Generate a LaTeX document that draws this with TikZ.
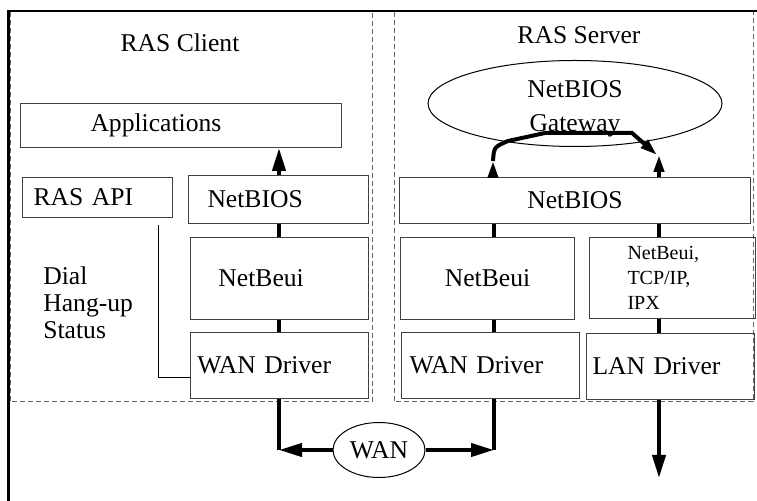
\documentclass[tikz,border=0pt]{standalone}
\usepackage{fontspec}
\setmainfont{Liberation Serif}
\usetikzlibrary{positioning}
\usetikzlibrary{arrows.meta}
\usetikzlibrary{shapes.geometric}

\begin{document}
\begin{tikzpicture}[x=0.5pt,y=-0.5pt,font=\fontsize{12.8}{15}\selectfont,
	box/.style={draw=black!75, line width=0.5pt, anchor=north west, inner ysep=0pt, align=left},
	bar/.style={line width=2pt},
	fat/.style={line width=2pt,-{Triangle[length=11.5pt,width=6.5pt]}},
	small/.style={line width=2pt,-{Triangle[length=8.5pt,width=5pt]}},
	zone/.style={draw=black!60, line width=0.5pt, dash pattern=on 2.5pt off 1.5pt}]
		\useasboundingbox (0,0) rectangle (757,501);
		\draw[zone] (10,12) rectangle (372,402);
		\draw[zone] (394,12) rectangle (753,402);
		\draw[line width=1.1pt] (8.5,501) -- (8.5,10.8) -- (757,10.8);
		\node (client) at (180,43) {RAS Client};
		\node (server) at (579,35) {RAS Server};
		\node (apps) [box, text width=90.5pt, inner xsep=35pt, minimum height=22pt] at (20,103) {Applications};
		\node (api) [box, text width=64pt, inner xsep=5.5pt, minimum height=20pt] at (22,177) {RAS API};
		\node (nbc) [box, text width=71pt, inner xsep=9.5pt, minimum height=24pt] at (188,175) {NetBIOS};
		\node (nec) [box, text width=61pt, inner xsep=14pt, minimum height=41pt] at (190,237) {NetBeui};
		\node (wdc) [box, text width=82pt, inner xsep=3.5pt, minimum height=33pt] at (190,332) {WAN Driver};
		\node (ops) [anchor=north west, inner sep=0pt, align=left, font=\fontsize{12.8}{13.5}\selectfont] at (43,266) {Dial\\Hang-up\\Status};
		\node (gw) [draw, ellipse, line width=0.5pt, minimum width=147pt, minimum height=43pt, inner sep=0pt, font=\fontsize{12.8}{17}\selectfont] at (575,103.5)
			{\raisebox{-14.25pt}[0pt][0pt]{\parbox[b]{60pt}{\centering NetBIOS\\Gateway}}};
		\node (nbs) [box, text width=175.5pt, inner xsep=0pt, align=center, minimum height=23pt] at (399,177) {NetBIOS};
		\node (nes) [box, text width=87pt, inner xsep=0pt, align=center, minimum height=41pt] at (400,237) {NetBeui};
		\node (tcp) [box, text width=45pt, inner xsep=19pt, minimum height=40.5pt, font=\fontsize{10}{12.5}\selectfont] at (589,237) {NetBeui,\\TCP/IP,\\IPX};
		\node (wds) [box, text width=81pt, inner xsep=4pt, minimum height=33pt] at (401,332) {WAN Driver};
		\node (lan) [box, text width=78pt, inner xsep=3pt, minimum height=33pt] at (586,333) {LAN Driver};
		\node (wan) [draw, ellipse, line width=0.5pt, minimum width=46pt, minimum height=27.5pt, inner sep=0pt] at (379,450) {WAN};
		\coordinate (cL) at (279,0);
		\coordinate (sL) at (494,0);
		\coordinate (sR) at (659,0);
		\coordinate (apiL) at (158,225);
		\coordinate (gwL) at (493,161);
		\coordinate (gwR) at (657,155);
		\coordinate (lanOut) at (659,478);
		\draw[fat] (nbc.north -| cL) -- (apps.south -| cL);
		\draw[bar] (nbc.south -| cL) -- (nec.north -| cL);
		\draw[bar] (nec.south -| cL) -- (wdc.north -| cL);
		\draw[line width=0.5pt] (apiL) |- ([yshift=-6pt]wdc.west);
		\draw[small] (nbs.north -| gwL) -- (gwL);
		\draw[small] (nbs.north -| sR) -- (sR |- gwR);
		\draw[small] (gwL) .. controls (494,147) .. (508,141) -- (545,133) -- (632,133) -- (gwR);
		\draw[bar] (nbs.south -| sL) -- (nes.north -| sL);
		\draw[bar] (nbs.south -| sR) -- (tcp.north -| sR);
		\draw[bar] (nes.south -| sL) -- (wds.north -| sL);
		\draw[bar] (tcp.south -| sR) -- (lan.north -| sR);
		\draw[bar] (wdc.south -| cL) -- (wan.west -| cL);
		\draw[fat] (wan.west) -- (wan.west -| cL);
		\draw[bar] (wds.south -| sL) -- (wan.east -| sL);
		\draw[fat] (wan.east) -- (wan.east -| sL);
		\draw[fat] (lan.south -| sR) -- (lanOut);
\end{tikzpicture}
\end{document}
